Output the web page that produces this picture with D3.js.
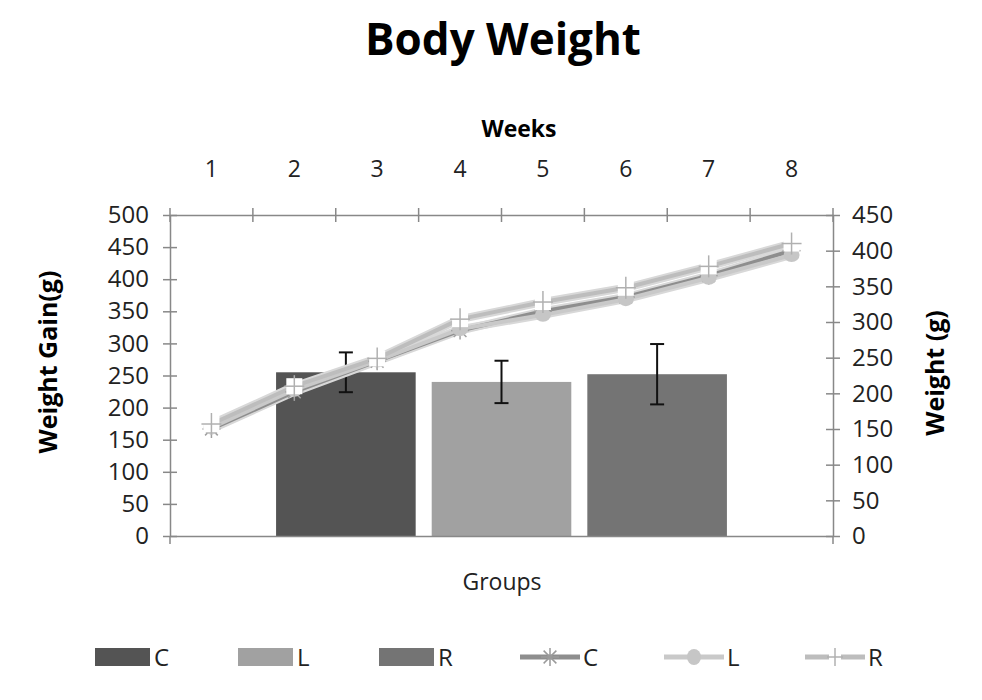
<!DOCTYPE html>
<html><head><meta charset="utf-8">
<script src="https://cdn.jsdelivr.net/npm/d3@7"></script>
<style>body{margin:0;background:#fff}svg{display:block}</style>
</head><body><svg id="c" width="982" height="700"></svg>
<script>
// ---- data ----
const groups = ["C", "L", "R"];
const gainValues = [255, 240, 252];
const gainErrors = [31, 33, 47];
const weeks = [1, 2, 3, 4, 5, 6, 7, 8];
const weightC = [150, 202, 245, 288, 315, 335, 365, 400];
const weightL = [152, 205, 246, 290, 310, 332, 362, 394];
const weightR = [157, 210, 249, 304, 328, 348, 378, 410];
const leftTicks = [0, 50, 100, 150, 200, 250, 300, 350, 400, 450, 500];
const rightTicks = [0, 50, 100, 150, 200, 250, 300, 350, 400, 450];
const bottomCategory = ["Groups"];

const FONT = "'Open Sans', sans-serif";
const barColors = {C: "#545454", L: "#a1a1a1", R: "#747474"};
const lineColors = {C: "#8e8e8e", L: "#c9c9c9", R: "#bdbdbd"};
const axisColor = "#888";

const svg = d3.select("#c");
const L = 170, Rr = 833, T = 215, B = 536;

const yL = d3.scaleLinear().domain([0, 500]).range([B, T]);
const yR = d3.scaleLinear().domain([0, 450]).range([B, T]);
const xW = d3.scaleBand().domain(weeks).range([L, Rr]);
const x0 = d3.scaleBand().domain(bottomCategory).range([L, Rr]);
const bw0 = x0.bandwidth();
const x1 = d3.scaleBand().domain(groups)
  .range([x0("Groups") + 0.16 * bw0, x0("Groups") + 0.84 * bw0])
  .paddingInner(0.103).paddingOuter(0);

// title
svg.append("text").attr("x", 503).attr("y", 55).attr("text-anchor", "middle")
  .style("font", `bold 44px ${FONT}`).attr("fill", "#000").text("Body Weight");

// bars
const barData = groups.map((g, i) => ({g, v: gainValues[i], e: gainErrors[i]}));
svg.append("g").selectAll("rect").data(barData).join("rect")
  .attr("x", d => x1(d.g)).attr("width", x1.bandwidth())
  .attr("y", d => yL(d.v)).attr("height", d => yL(0) - yL(d.v))
  .attr("fill", d => barColors[d.g]);

// error bars
const eg = svg.append("g").attr("stroke", "#111").attr("stroke-width", 2);
barData.forEach(d => {
  const cx = x1(d.g) + x1.bandwidth() / 2;
  eg.append("line").attr("x1", cx).attr("x2", cx).attr("y1", yL(d.v + d.e)).attr("y2", yL(d.v - d.e));
  eg.append("line").attr("x1", cx - 7).attr("x2", cx + 7).attr("y1", yL(d.v + d.e)).attr("y2", yL(d.v + d.e));
  eg.append("line").attr("x1", cx - 7).attr("x2", cx + 7).attr("y1", yL(d.v - d.e)).attr("y2", yL(d.v - d.e));
});

// axes
function styleAxis(g) {
  g.select(".domain").attr("stroke", axisColor).attr("stroke-width", 1.5);
  g.selectAll(".tick line").attr("stroke", axisColor).attr("stroke-width", 1.5);
  g.selectAll("text").style("font", `24px ${FONT}`).attr("fill", "#222");
}
const gl = svg.append("g").attr("transform", `translate(${L},0)`)
  .call(d3.axisLeft(yL).tickValues(leftTicks).tickSize(7).tickSizeOuter(0).tickPadding(14));
gl.selectAll(".tick").append("line").attr("x1", 0).attr("x2", 7);
styleAxis(gl);

const gr = svg.append("g").attr("transform", `translate(${Rr},0)`)
  .call(d3.axisRight(yR).tickValues(rightTicks).tickSize(7).tickSizeOuter(0).tickPadding(12));
gr.selectAll(".tick").append("line").attr("x1", 0).attr("x2", -7);
styleAxis(gr);

const gt = svg.append("g").attr("transform", `translate(0,${T})`)
  .call(d3.axisTop(xW).tickSize(0).tickPadding(38));
styleAxis(gt);
gt.selectAll("text").style("font", `23px ${FONT}`);
const bounds = weeks.map(w => xW(w)).concat([xW.range()[1]]);
gt.selectAll(".bnd").data(bounds).join("line").attr("class", "bnd")
  .attr("x1", d => d).attr("x2", d => d).attr("y1", -7).attr("y2", 7)
  .attr("stroke", axisColor).attr("stroke-width", 1.5);

const gb = svg.append("g").attr("transform", `translate(0,${B})`)
  .call(d3.axisBottom(x0).tickSize(0).tickFormat(""));
styleAxis(gb);
gb.selectAll(".bnd").data(x0.range()).join("line").attr("class", "bnd")
  .attr("x1", d => d).attr("x2", d => d).attr("y1", 0).attr("y2", 8)
  .attr("stroke", axisColor).attr("stroke-width", 1.5);

// axis titles
svg.append("text").attr("x", 519).attr("y", 137).attr("text-anchor", "middle")
  .style("font", `bold 23px ${FONT}`).text("Weeks");
svg.append("text").attr("x", 502).attr("y", 590).attr("text-anchor", "middle")
  .style("font", `23px ${FONT}`).attr("fill", "#222").text("Groups");
svg.append("text").attr("transform", "translate(57,362) rotate(-90)").attr("text-anchor", "middle")
  .style("font", `bold 25px ${FONT}`).text("Weight Gain(g)");
svg.append("text").attr("transform", "translate(944,373) rotate(-90)").attr("text-anchor", "middle")
  .style("font", `bold 25px ${FONT}`).text("Weight (g)");

// lines
const series = [
  {k: "C", vals: weightC},
  {k: "L", vals: weightL},
  {k: "R", vals: weightR}
];
const lineGen = d3.line().x(d => xW(d.w) + xW.bandwidth() / 2).y(d => yR(d.v));
series.forEach(s => {
  const pts = weeks.map((w, i) => ({w, v: s.vals[i]}));
  svg.append("path").datum(pts).attr("d", lineGen).attr("fill", "none")
    .attr("stroke", "#d8d8d8").attr("stroke-width", 8).attr("stroke-linejoin", "round");
});
series.forEach(s => {
  const pts = weeks.map((w, i) => ({w, v: s.vals[i]}));
  svg.append("path").datum(pts).attr("d", lineGen).attr("fill", "none")
    .attr("stroke", lineColors[s.k]).attr("stroke-width", 4).attr("stroke-linejoin", "round");
});

function asterisk(g, cx, cy, r, col) {
  for (let a = 0; a < 180; a += 45) {
    const rad = a * Math.PI / 180;
    g.append("line").attr("x1", cx - r * Math.cos(rad)).attr("y1", cy - r * Math.sin(rad))
      .attr("x2", cx + r * Math.cos(rad)).attr("y2", cy + r * Math.sin(rad))
      .attr("stroke", col).attr("stroke-width", 1.5);
  }
}
function plusBox(g, cx, cy, r, col) {
  g.append("rect").attr("x", cx - r).attr("y", cy - r).attr("width", 2 * r).attr("height", 2 * r).attr("fill", "#fff");
  g.append("line").attr("x1", cx - r - 2).attr("x2", cx + r + 2).attr("y1", cy).attr("y2", cy).attr("stroke", col).attr("stroke-width", 1.5);
  g.append("line").attr("x1", cx).attr("x2", cx).attr("y1", cy - r - 3).attr("y2", cy + r + 3).attr("stroke", col).attr("stroke-width", 1.5);
}
const mk = svg.append("g");
weeks.forEach((w, i) => {
  const cx = xW(w) + xW.bandwidth() / 2;
  asterisk(mk, cx, yR(weightC[i]), 9, "#a0a0a0");
});
weeks.forEach((w, i) => {
  const cx = xW(w) + xW.bandwidth() / 2;
  mk.append("ellipse").attr("cx", cx).attr("cy", yR(weightL[i])).attr("rx", 8).attr("ry", 7).attr("fill", "#c6c6c6");
});
weeks.forEach((w, i) => {
  const cx = xW(w) + xW.bandwidth() / 2;
  plusBox(mk, cx, yR(weightR[i]), 8, "#b0b0b0");
});

// legend
const lg = svg.append("g");
const ly = 657;
const barLeg = [{k: "C", x: 95}, {k: "L", x: 238}, {k: "R", x: 379}];
barLeg.forEach(d => {
  lg.append("rect").attr("x", d.x).attr("y", ly - 9).attr("width", 55).attr("height", 18).attr("fill", barColors[d.k]);
  lg.append("text").attr("x", d.x + 59).attr("y", ly + 9).style("font", `24px ${FONT}`).attr("fill", "#222").text(d.k);
});
const lineLeg = [{k: "C", x: 520}, {k: "L", x: 664}, {k: "R", x: 805}];
lineLeg.forEach(d => {
  lg.append("line").attr("x1", d.x).attr("x2", d.x + 60).attr("y1", ly).attr("y2", ly)
    .attr("stroke", lineColors[d.k]).attr("stroke-width", 5);
  const cx = d.x + 30;
  if (d.k === "C") asterisk(lg, cx, ly, 9, "#9a9a9a");
  if (d.k === "L") lg.append("ellipse").attr("cx", cx).attr("cy", ly).attr("rx", 7).attr("ry", 8).attr("fill", "#c6c6c6");
  if (d.k === "R") plusBox(lg, cx, ly, 6, "#b0b0b0");
  lg.append("text").attr("x", d.x + 63).attr("y", ly + 9).style("font", `24px ${FONT}`).attr("fill", "#222").text(d.k);
});
</script></body></html>
